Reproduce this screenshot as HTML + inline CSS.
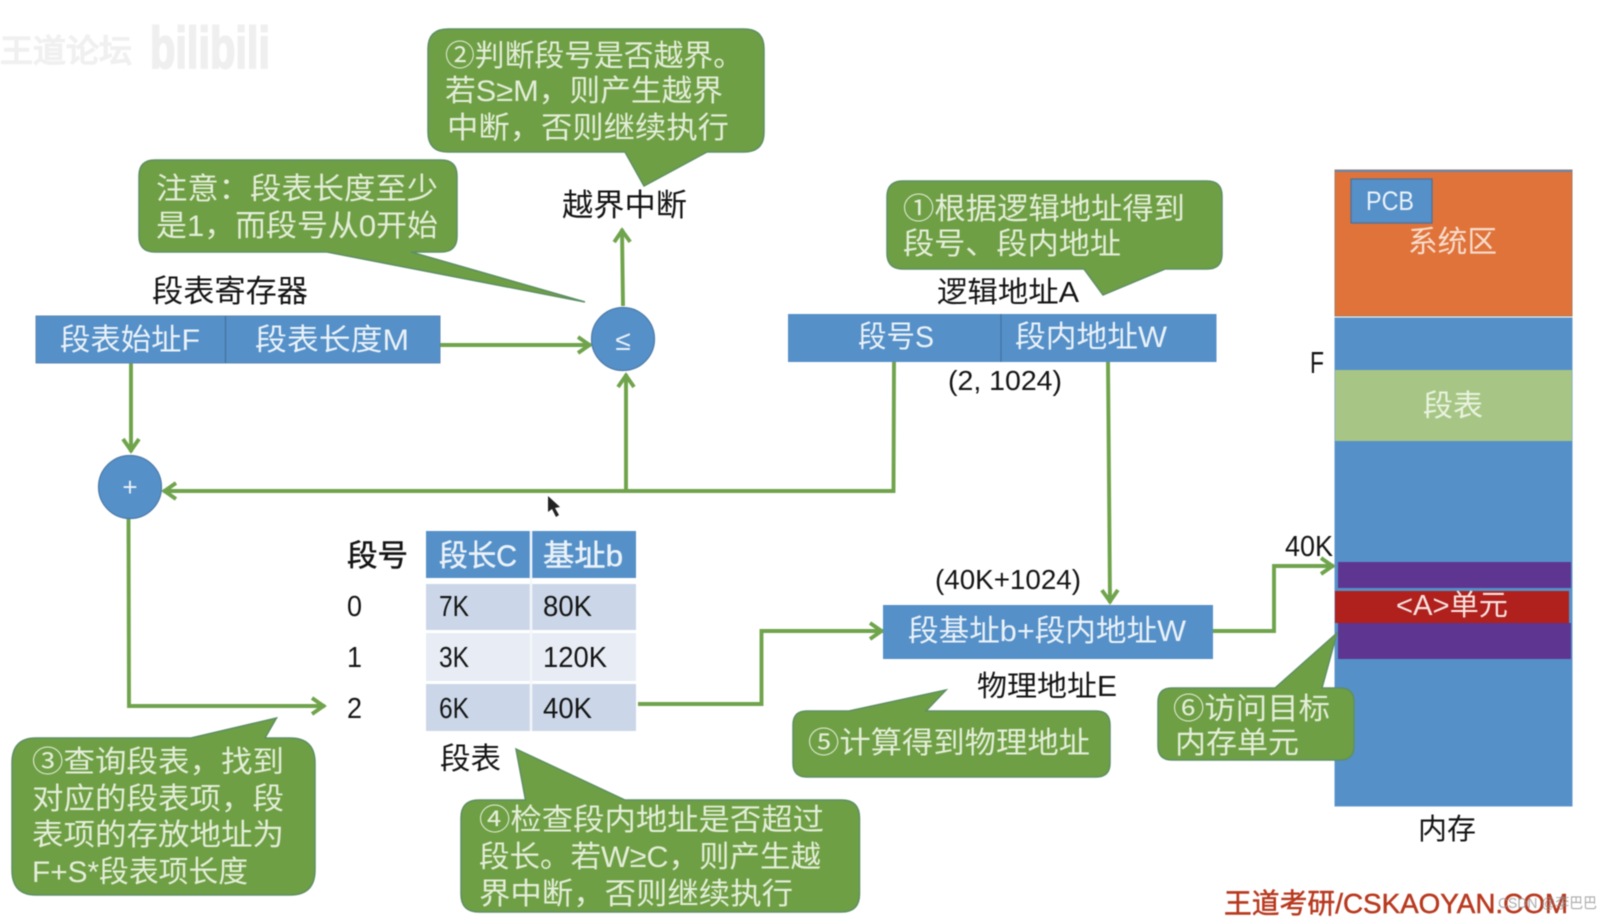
<!DOCTYPE html>
<html lang="zh"><head><meta charset="utf-8"><title>分段存储地址变换</title>
<style>
html,body{margin:0;padding:0;background:#fff;width:1611px;height:918px;overflow:hidden}
svg{display:block;filter:blur(.45px)}
text{font-family:"Liberation Sans","Noto Sans CJK SC",sans-serif;dominant-baseline:auto}
.b{fill:#141414}.w{fill:#eaf2f8}.g{fill:#e3eed8}
.l{fill:none;stroke:#70a44c;stroke-width:3.9}
.c{fill:#6f9f45;stroke:#5d8f63;stroke-width:1.5}
.r{fill:#5590c9}
</style></head><body>
<svg width="1611" height="918" viewBox="0 0 1611 918" xmlns="http://www.w3.org/2000/svg">
<defs><marker id="a" markerWidth="22" markerHeight="22" refX="17" refY="11" orient="auto" markerUnits="userSpaceOnUse"><path d="M4 3 L15.5 11 L4 19" fill="none" stroke="#70a44c" stroke-width="3.9"/></marker></defs>

<!-- faint watermark -->
<text x="0" y="62" font-size="32" fill="#f0f0f0" stroke="#f0f0f0" stroke-width="1.5" textLength="132" lengthAdjust="spacingAndGlyphs">王道论坛</text>
<text x="150" y="68" font-size="58" font-weight="bold" fill="#efefef" stroke="#efefef" stroke-width="2" textLength="120" lengthAdjust="spacingAndGlyphs">bilibili</text>

<!-- memory -->
<rect x="1335" y="170" width="237" height="146" fill="#e0733a" stroke="#a8795e" stroke-width="1"/>
<rect x="1335" y="170" width="237" height="2" fill="#6c86a8"/>
<rect x="1351" y="179" width="81" height="44" class="r" stroke="#4d6f96" stroke-width="1.2"/>
<text x="1366" y="210" font-size="27" class="w" textLength="48" lengthAdjust="spacingAndGlyphs">PCB</text>
<text x="1408" y="252" font-size="30" fill="#f7dccb" textLength="89" lengthAdjust="spacingAndGlyphs">系统区</text>
<rect x="1335" y="318" width="237" height="488" class="r" stroke="#5f95ca" stroke-width="1"/>
<rect x="1335" y="370" width="237" height="71" fill="#a7c686"/>
<text x="1423" y="416" font-size="30" fill="#eaf3df" textLength="60" lengthAdjust="spacingAndGlyphs">段表</text>
<rect x="1338" y="562" width="233" height="26" fill="#5e3590"/>
<rect x="1338" y="623" width="233" height="36" fill="#5e3590"/>
<rect x="1335" y="591" width="234" height="32" fill="#b0201c"/>
<text x="1396" y="615" font-size="29" fill="#f6e4e0" textLength="112" lengthAdjust="spacingAndGlyphs">&lt;A&gt;单元</text>
<text x="1310" y="373" font-size="31" class="b" textLength="14" lengthAdjust="spacingAndGlyphs">F</text>
<text x="1285" y="556" font-size="29" class="b" textLength="48" lengthAdjust="spacingAndGlyphs">40K</text>
<text x="1418" y="839" font-size="29" class="b" textLength="58" lengthAdjust="spacingAndGlyphs">内存</text>

<!-- connectors -->
<path class="l" d="M623 306 L622 229" marker-end="url(#a)"/>
<path class="l" d="M440 345 H591" marker-end="url(#a)"/>
<path class="l" d="M131 363 V452" marker-end="url(#a)"/>
<path class="l" d="M894 362 L893.500 491 H163" marker-end="url(#a)"/>
<path class="l" d="M626 490 V374" marker-end="url(#a)"/>
<path class="l" d="M1108 362 L1110 603" marker-end="url(#a)"/>
<path class="l" d="M128.500 519 L129 706 H325" marker-end="url(#a)"/>
<path class="l" d="M638 704 H761.500 V631 H883" marker-end="url(#a)"/>
<path class="l" d="M1213 631 H1274 V566 H1334" marker-end="url(#a)"/>

<!-- register -->
<rect x="36" y="316" width="404" height="47" class="r" stroke="#5f86b2" stroke-width="1"/>
<line x1="225.500" y1="316" x2="225.500" y2="363" stroke="#44709f" stroke-width="1.2"/>
<text x="60" y="350" font-size="30" class="w" textLength="140" lengthAdjust="spacingAndGlyphs">段表始址F</text>
<text x="255" y="350" font-size="30" class="w" textLength="154" lengthAdjust="spacingAndGlyphs">段表长度M</text>
<text x="152" y="302" font-size="31" class="b" textLength="156" lengthAdjust="spacingAndGlyphs">段表寄存器</text>

<!-- logical address -->
<rect x="788" y="314" width="428.500" height="48" class="r"/>
<line x1="1001" y1="314" x2="1001" y2="362" stroke="#44709f" stroke-width="1.2"/>
<text x="858" y="347" font-size="30" class="w" textLength="76" lengthAdjust="spacingAndGlyphs">段号S</text>
<text x="1015" y="347" font-size="30" class="w" textLength="152" lengthAdjust="spacingAndGlyphs">段内地址W</text>
<text x="937" y="302" font-size="29" class="b" textLength="142" lengthAdjust="spacingAndGlyphs">逻辑地址A</text>
<text x="948" y="390" font-size="28" class="b" textLength="114" lengthAdjust="spacingAndGlyphs">(2, 1024)</text>

<!-- circles -->
<circle cx="623" cy="339" r="31.500" class="r" stroke="#4d7ba8" stroke-width="1.2"/>
<text x="623" y="350" font-size="28" class="w" text-anchor="middle">≤</text>
<circle cx="130" cy="487" r="31.500" class="r" stroke="#4d7ba8" stroke-width="1.2"/>
<text x="130" y="496" font-size="26" class="w" text-anchor="middle">+</text>
<text x="562" y="216" font-size="31" class="b" textLength="125" lengthAdjust="spacingAndGlyphs">越界中断</text>

<!-- segment table -->
<rect x="426" y="531" width="210" height="47" class="r"/>
<rect x="426" y="584" width="210" height="46" fill="#cbd7e8"/>
<rect x="426" y="633" width="210" height="48" fill="#e7ecf5"/>
<rect x="426" y="684" width="210" height="47" fill="#cbd7e8"/>
<line x1="531" y1="531" x2="531" y2="731" stroke="#f4f6fa" stroke-width="2.500"/>
<text x="347" y="566" font-size="30" class="b" stroke="#141414" stroke-width=".5" textLength="61" lengthAdjust="spacingAndGlyphs">段号</text>
<text x="439" y="566" font-size="30" class="w" stroke="#eaf2f8" stroke-width=".5" textLength="78" lengthAdjust="spacingAndGlyphs">段长C</text>
<text x="543" y="566" font-size="30" class="w" stroke="#eaf2f8" stroke-width=".5" textLength="80" lengthAdjust="spacingAndGlyphs">基址b</text>
<g font-size="29" class="b">
<text x="347" y="616" class="b" textLength="15" lengthAdjust="spacingAndGlyphs">0</text>
<text x="347" y="667" class="b" textLength="15" lengthAdjust="spacingAndGlyphs">1</text>
<text x="347" y="718" class="b" textLength="15" lengthAdjust="spacingAndGlyphs">2</text>
<text x="439" y="616" class="b" textLength="30" lengthAdjust="spacingAndGlyphs">7K</text>
<text x="543" y="616" class="b" textLength="49" lengthAdjust="spacingAndGlyphs">80K</text>
<text x="439" y="667" class="b" textLength="30" lengthAdjust="spacingAndGlyphs">3K</text>
<text x="543" y="667" class="b" textLength="64" lengthAdjust="spacingAndGlyphs">120K</text>
<text x="439" y="718" class="b" textLength="30" lengthAdjust="spacingAndGlyphs">6K</text>
<text x="543" y="718" class="b" textLength="49" lengthAdjust="spacingAndGlyphs">40K</text>
</g>
<text x="440" y="769" font-size="30" class="b" textLength="61" lengthAdjust="spacingAndGlyphs">段表</text>

<!-- physical -->
<rect x="883" y="605" width="330" height="54" class="r"/>
<text x="908" y="641" font-size="30" class="w" textLength="278" lengthAdjust="spacingAndGlyphs">段基址b+段内地址W</text>
<text x="935" y="589" font-size="28" class="b" textLength="146" lengthAdjust="spacingAndGlyphs">(40K+1024)</text>
<text x="977" y="696" font-size="29" class="b" textLength="140" lengthAdjust="spacingAndGlyphs">物理地址E</text>

<!-- callouts -->
<path class="c" d="M448 29H744Q764 29 764 49V132Q764 152 744 152H707L644 186L625 152H448Q428 152 428 132V49Q428 29 448 29Z"/>
<text x="445" y="66" font-size="30" class="g" textLength="298" lengthAdjust="spacingAndGlyphs">②判断段号是否越界。</text>
<text x="445" y="101" font-size="30" class="g" textLength="278" lengthAdjust="spacingAndGlyphs">若S≥M，则产生越界</text>
<text x="447" y="138" font-size="30" class="g" textLength="282" lengthAdjust="spacingAndGlyphs">中断，否则继续执行</text>

<path class="c" d="M155 160H441Q457 160 457 176V236Q457 252 441 252H411L585 302L327 252H155Q139 252 139 236V176Q139 160 155 160Z"/>
<text x="156" y="199" font-size="30" class="g" textLength="282" lengthAdjust="spacingAndGlyphs">注意：段表长度至少</text>
<text x="156" y="236" font-size="30" class="g" textLength="282" lengthAdjust="spacingAndGlyphs">是1，而段号从0开始</text>

<path class="c" d="M903 181H1207Q1222 181 1222 196V254Q1222 269 1207 269H1165L1103 295L1084 269H903Q887 269 887 253V197Q887 181 903 181Z"/>
<text x="903" y="219" font-size="30" class="g" textLength="282" lengthAdjust="spacingAndGlyphs">①根据逻辑地址得到</text>
<text x="903" y="254" font-size="30" class="g" textLength="218" lengthAdjust="spacingAndGlyphs">段号、段内地址</text>

<path class="c" d="M36 738H191L276.500 718L265 738H290Q315 738 315 763V870Q315 895 290 895H36Q12 895 12 870V763Q12 738 36 738Z"/>
<text x="32" y="772" font-size="30" class="g" textLength="252" lengthAdjust="spacingAndGlyphs">③查询段表，找到</text>
<text x="32" y="809" font-size="30" class="g" textLength="252" lengthAdjust="spacingAndGlyphs">对应的段表项，段</text>
<text x="32" y="845" font-size="30" class="g" textLength="252" lengthAdjust="spacingAndGlyphs">表项的存放地址为</text>
<text x="32" y="882" font-size="30" class="g" textLength="216" lengthAdjust="spacingAndGlyphs">F+S*段表项长度</text>

<path class="c" d="M479 800H525.500L516 749L625 800H841.500Q859.500 800 859.500 818V894Q859.500 912 841.500 912H479Q461 912 461 894V818Q461 800 479 800Z"/>
<text x="479" y="830" font-size="30" class="g" textLength="345" lengthAdjust="spacingAndGlyphs">④检查段内地址是否超过</text>
<text x="479" y="867" font-size="30" class="g" textLength="342" lengthAdjust="spacingAndGlyphs">段长。若W≥C，则产生越</text>
<text x="479" y="904" font-size="30" class="g" textLength="314" lengthAdjust="spacingAndGlyphs">界中断，否则继续执行</text>

<path class="c" d="M807 711H849L946 690L926 711H1096Q1110 711 1110 725V763Q1110 777 1096 777H807Q793 777 793 763V725Q793 711 807 711Z"/>
<text x="808" y="753" font-size="30" class="g" textLength="282" lengthAdjust="spacingAndGlyphs">⑤计算得到物理地址</text>

<path class="c" d="M1172 688H1275L1337 633L1322 688H1340Q1354 688 1354 702V746Q1354 760 1340 760H1172Q1158 760 1158 746V702Q1158 688 1172 688Z"/>
<text x="1173" y="719" font-size="30" class="g" textLength="157" lengthAdjust="spacingAndGlyphs">⑥访问目标</text>
<text x="1175" y="753" font-size="30" class="g" textLength="124" lengthAdjust="spacingAndGlyphs">内存单元</text>

<!-- cursor -->
<polygon points="548,496 548,512 552,509 556,517 559,515 555,508 560,507" fill="#222"/>

<!-- bottom watermark -->
<text x="1224" y="913" font-size="28" fill="#b8391f" stroke="#b8391f" stroke-width=".5" textLength="344" lengthAdjust="spacingAndGlyphs">王道考研/CSKAOYAN.COM</text>
<text x="1498" y="908" font-size="15" fill="#8f8f8f" fill-opacity=".75" textLength="99" lengthAdjust="spacingAndGlyphs">CSDN @李巴巴</text>
</svg>
</body></html>
